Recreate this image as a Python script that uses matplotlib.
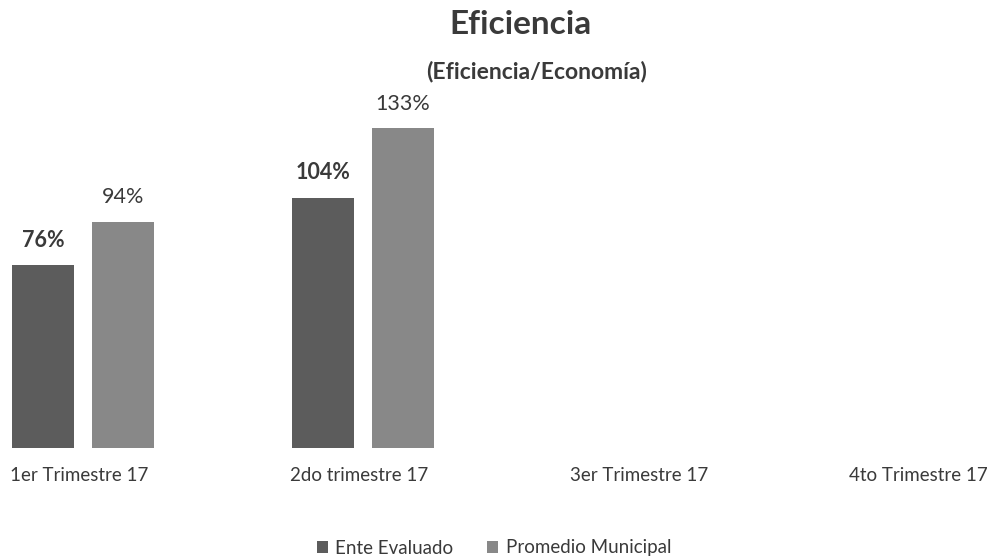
import numpy as np
import matplotlib.pyplot as plt

plt.rcParams['font.family'] = ['Lato', 'DejaVu Sans']

categories = ['1er Trimestre 17', '2do trimestre 17', '3er Trimestre 17', '4to Trimestre 17']
ente_evaluado = [76, 104, None, None]
promedio_municipal = [94, 133, None, None]
series_names = ['Ente Evaluado', 'Promedio Municipal']

dark = '#5c5c5c'
light = '#888888'
text_color = '#3a3a3a'

fig = plt.figure(figsize=(9.98, 5.59), dpi=100)
ax = fig.add_axes([0, (559 - 448) / 559, 1, 448 / 559])

x = np.arange(len(categories))
width = 0.221
offset = 0.143

for vals, off, color, name, weight in [
    (ente_evaluado, -offset, dark, series_names[0], 'bold'),
    (promedio_municipal, offset, light, series_names[1], 'normal'),
]:
    xs = [xi + off for xi, v in zip(x, vals) if v is not None]
    ys = [v for v in vals if v is not None]
    bars = ax.bar(xs, ys, width=width, color=color, label=name)
    for b, v in zip(bars, ys):
        ax.text(b.get_x() + b.get_width() / 2, v + 6, f'{v}%', ha='center', va='bottom',
                fontsize=15.5, fontweight=weight, color=text_color)

ax.set_xlim(-83 / 280, 3 + 75 / 280)
ax.set_ylim(0, 448 / 2.406)
ax.axis('off')

for xi, lab in zip(x, categories):
    ax.text(xi - 0.015, -8, lab, ha='center', va='top', fontsize=13.5, color=text_color)

fig.text(0.522, 1 - 24 / 559, 'Eficiencia', ha='center', va='center',
         fontsize=24, fontweight='bold', color=text_color)
fig.text(0.538, 1 - 71 / 559, '(Eficiencia/Economía)', ha='center', va='center',
         fontsize=16.5, fontweight='bold', color=text_color)

fig.legend(loc='center', bbox_to_anchor=(494 / 998, 1 - 548 / 559), ncol=2, frameon=False,
           fontsize=13.5, handlelength=0.6, handleheight=0.6, columnspacing=1.8,
           handletextpad=0.4, labelcolor=text_color)

fig.savefig('out.png', dpi=100, facecolor='white')
